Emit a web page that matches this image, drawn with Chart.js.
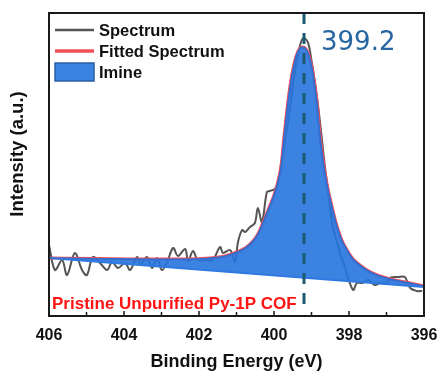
<!DOCTYPE html>
<html>
<head>
<meta charset="utf-8">
<title>N 1s XPS</title>
<script src="https://cdn.jsdelivr.net/npm/chart.js@4.4.1/dist/chart.umd.min.js"></script>
<style>
  html, body { margin: 0; padding: 0; background: #ffffff; }
  #wrap { width: 440px; height: 374px; position: relative; }
</style>
</head>
<body>
<div id="wrap"><canvas id="xps-chart"></canvas></div>
<script>
// Raw N 1s spectrum (binding energy in eV, intensity in a.u.)
const spectrumEV = [406.00, 405.84, 405.65, 405.52, 405.31, 405.12, 404.99, 404.83, 404.64, 404.45,
  404.32, 404.16, 403.97, 403.84, 403.65, 403.57, 403.39, 403.25, 403.12, 402.99,
  402.85, 402.69, 402.56, 402.37, 402.29, 402.16, 402.03, 401.79, 401.63, 401.44,
  401.36, 401.17, 401.04, 400.96, 400.85, 400.77, 400.64, 400.51, 400.43, 400.32,
  400.19, 400.11, 399.95, 399.81, 399.68, 399.57, 399.47, 399.36, 399.28, 399.20,
  399.09, 398.99, 398.85, 398.64, 398.51, 398.43, 398.24, 398.11, 398.03, 397.89,
  397.79, 397.65, 397.49, 397.31, 397.17, 396.99, 396.91, 396.69, 396.51, 396.37,
  396.19, 396.05];
const spectrumInt = [71, 46, 56, 41, 63, 46, 41, 59, 53, 46,
  54, 48, 53, 46, 59, 51, 59, 48, 58, 46,
  54, 68, 60, 67, 55, 65, 56, 56, 56, 69,
  63, 66, 54, 74, 86, 84, 89, 93, 108, 94,
  124, 125, 128, 151, 181, 208, 238, 261, 274, 278,
  273, 253, 218, 149, 109, 89, 63, 49, 39, 26,
  33, 33, 36, 31, 33, 33, 38, 39, 39, 28,
  25, 25];

// Fitted envelope (single imine component on top of the background)
const fitEV = [406.00, 404.64, 403.31, 402.37, 401.71, 401.31, 400.99, 400.77, 400.56, 400.43,
  400.29, 400.16, 400.03, 399.92, 399.81, 399.73, 399.65, 399.57, 399.49, 399.41,
  399.33, 399.25, 399.17, 399.09, 399.01, 398.93, 398.85, 398.77, 398.69, 398.59,
  398.43, 398.32, 398.19, 398.05, 397.89, 397.71, 397.52, 397.25, 396.99, 396.64,
  396.37, 396.00];
const fitInt = [58, 57.5, 57, 57, 58, 60, 64, 68, 75, 82,
  94, 106, 118, 131, 151, 181, 208, 231, 248, 260,
  267, 269, 268, 263, 253, 236, 213, 181, 156, 133,
  106, 90, 76, 66, 57, 51, 46, 41, 38, 35,
  33, 30];

// Linear background under the peak
const backgroundEV = [406, 396];
const backgroundInt = [58, 29];

const peakEV = 399.2;
const peakLabel = '399.2';
const sampleName = 'Pristine Unpurified Py-1P COF';

const xMin = 396, xMax = 406, xStep = 2;
const yMin = 0, yMax = 303;

const toPoints = (xs, ys) => xs.map((v, i) => ({ x: v, y: ys[i] }));

const FONT = '"Liberation Sans", Arial, sans-serif';

// frame, inner ticks, peak marker, legend and labels
const decorations = {
  id: 'decorations',
  afterDatasetsDraw(chart) {
    const { ctx, chartArea: area, scales: { x } } = chart;
    ctx.save();

    // peak position marker
    const px = x.getPixelForValue(peakEV);
    ctx.strokeStyle = '#1c5a72';
    ctx.lineWidth = 3;
    ctx.setLineDash([11, 9]);
    ctx.beginPath();
    ctx.moveTo(px, area.top);
    ctx.lineTo(px, area.bottom - 12);
    ctx.stroke();
    ctx.setLineDash([]);

    ctx.fillStyle = '#2866a3';
    ctx.font = '26px "DejaVu Sans", sans-serif';
    ctx.textAlign = 'left';
    ctx.textBaseline = 'alphabetic';
    ctx.fillText(peakLabel, px + 17, area.top + 37);

    // plot frame
    ctx.strokeStyle = '#1a1a1a';
    ctx.lineWidth = 2;
    ctx.strokeRect(area.left, area.top, area.right - area.left, area.bottom - area.top);

    // inward ticks on the energy axis, every 1 eV
    ctx.lineWidth = 1.5;
    ctx.beginPath();
    for (let v = xMin; v <= xMax; v++) {
      const tx = x.getPixelForValue(v);
      const len = (v % xStep === 0) ? 5 : 4;
      ctx.moveTo(tx, area.bottom);
      ctx.lineTo(tx, area.bottom - len);
    }
    ctx.stroke();

    // legend
    ctx.font = 'bold 16.5px ' + FONT;
    ctx.textBaseline = 'middle';
    const lx = area.left + 6;
    let ly = area.top + 17;
    chart.data.datasets.forEach(ds => {
      if (!ds.inLegend) return;
      if (ds.legendBox) {
        ctx.fillStyle = ds.backgroundColor;
        ctx.fillRect(lx, ly - 9, 39, 18);
        ctx.strokeStyle = ds.legendEdge;
        ctx.lineWidth = 1.5;
        ctx.strokeRect(lx, ly - 9, 39, 18);
      } else {
        ctx.strokeStyle = ds.borderColor;
        ctx.lineWidth = ds.legendWidth;
        ctx.beginPath();
        ctx.moveTo(lx, ly);
        ctx.lineTo(lx + 39, ly);
        ctx.stroke();
      }
      ctx.fillStyle = '#111111';
      ctx.fillText(ds.label, lx + 44, ly + 1);
      ly += 21;
    });

    // sample name
    ctx.fillStyle = '#ff1414';
    ctx.font = 'bold 17px ' + FONT;
    ctx.fillText(sampleName, area.left + 3, area.bottom - 12);

    // y axis title
    ctx.fillStyle = '#111111';
    ctx.font = 'bold 18.5px ' + FONT;
    ctx.textAlign = 'center';
    ctx.translate(18, 154);
    ctx.rotate(-Math.PI / 2);
    ctx.fillText('Intensity (a.u.)', 0, 0);

    ctx.restore();
  }
};

const chartCanvas = document.getElementById('xps-chart');

new Chart(chartCanvas, {
  type: 'line',
  data: {
    datasets: [
      {
        label: 'Spectrum',
        data: toPoints(spectrumEV, spectrumInt),
        borderColor: '#555555',
        borderWidth: 2,
        tension: 0.35,
        fill: false,
        order: 4,
        inLegend: true,
        legendWidth: 2.5
      },
      {
        label: 'Fitted Spectrum',
        data: toPoints(fitEV, fitInt),
        borderColor: '#f2505a',
        borderWidth: 3,
        cubicInterpolationMode: 'monotone',
        fill: false,
        order: 3,
        inLegend: true,
        legendWidth: 3.5
      },
      {
        label: 'Imine',
        data: toPoints(fitEV, fitInt),
        borderColor: '#2f6fd0',
        borderWidth: 1.2,
        backgroundColor: 'rgba(38, 116, 222, 0.9)',
        cubicInterpolationMode: 'monotone',
        fill: '+1',
        order: 2,
        inLegend: true,
        legendBox: true,
        legendEdge: '#2b5ea8'
      },
      {
        label: 'Background',
        data: toPoints(backgroundEV, backgroundInt),
        borderColor: '#2f7ae0',
        borderWidth: 2,
        fill: false,
        order: 1,
        inLegend: false
      }
    ]
  },
  options: {
    responsive: true,
    maintainAspectRatio: false,
    animation: false,
    layout: { padding: { top: 13, right: 16, left: 0, bottom: 0 } },
    elements: { point: { radius: 0 } },
    plugins: {
      legend: { display: false },
      tooltip: { enabled: false }
    },
    scales: {
      x: {
        type: 'linear',
        reverse: true,
        min: xMin,
        max: xMax,
        grid: { display: false, drawTicks: false },
        border: { display: false },
        ticks: {
          stepSize: xStep,
          padding: 10,
          color: '#111111',
          font: { family: FONT, size: 16, weight: 'bold' }
        },
        title: {
          display: true,
          text: 'Binding Energy (eV)',
          color: '#111111',
          font: { family: FONT, size: 18, weight: 'bold' },
          padding: { top: 0, bottom: 1 }
        },
        afterFit: scale => {
          scale.height = 58;
          scale.paddingLeft = 0;
          scale.paddingRight = 0;
        }
      },
      y: {
        min: yMin,
        max: yMax,
        grid: { display: false },
        border: { display: false },
        ticks: { display: false },
        afterFit: scale => { scale.width = 49; }
      }
    }
  },
  plugins: [decorations]
});
</script>
</body>
</html>
